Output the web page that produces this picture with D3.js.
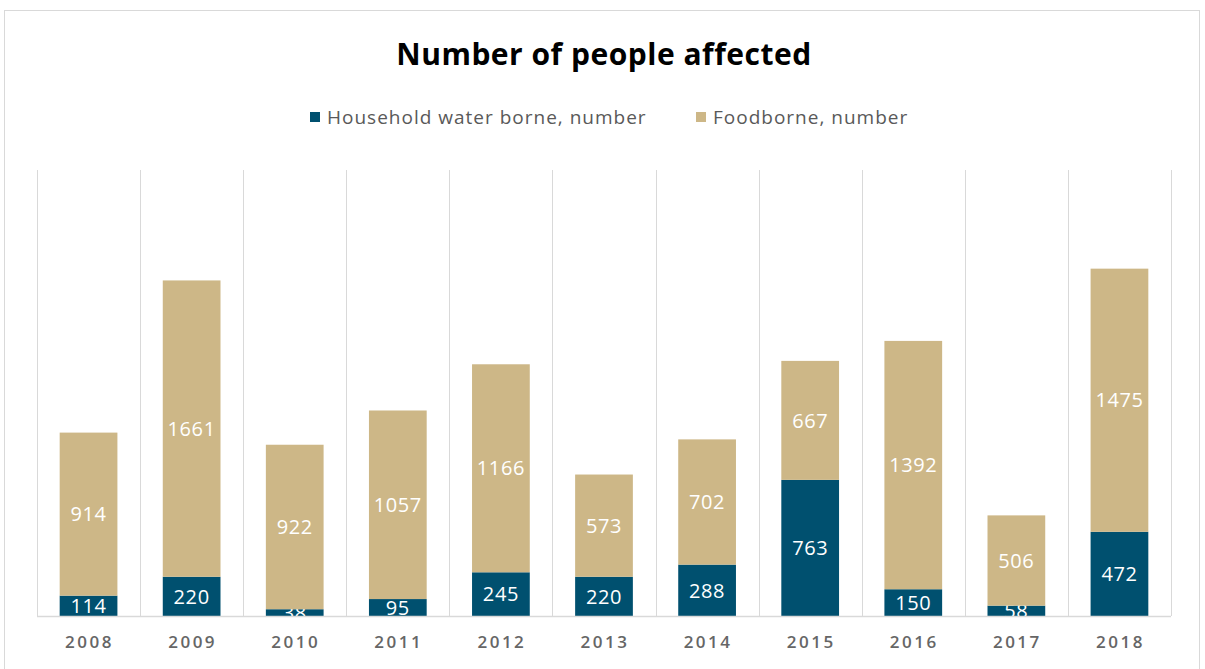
<!DOCTYPE html>
<html>
<head>
<meta charset="utf-8">
<script src="https://cdn.jsdelivr.net/npm/d3@7"></script>
<style>
body { margin: 0; background: #fff; }
text { font-family: "Open Sans", sans-serif; }
</style>
</head>
<body>
<script>
// chart values
var years = ["2008","2009","2010","2011","2012","2013","2014","2015","2016","2017","2018"];
var waterborne = [114, 220, 38, 95, 245, 220, 288, 763, 150, 58, 472];
var foodborne = [914, 1661, 922, 1057, 1166, 573, 702, 667, 1392, 506, 1475];
var seriesNames = ["Household water borne, number", "Foodborne, number"];
var colors = ["#00506f", "#cdb787"];

var W = 1205, H = 669;
var svg = d3.select("body").append("svg").attr("width", W).attr("height", H);

// outer border
svg.append("rect")
	.attr("x", 4.5).attr("y", 10.5).attr("width", 1195).attr("height", 700)
	.style("fill", "#fff").style("stroke", "#d9d9d9");

var plotLeft = 37, plotRight = 1171, plotTop = 170, plotBottom = 616;

var x = d3.scaleBand().domain(years).range([plotLeft, plotRight]).paddingInner(0).paddingOuter(0);
var y = d3.scaleLinear().domain([0, 2500]).range([plotBottom, plotTop]);
var barW = x.bandwidth() * 0.56;

// vertical gridlines at category boundaries
var bounds = years.map(function(d) { return x(d); }).concat([plotRight]);
svg.selectAll(".grid").data(bounds).enter().append("line")
	.attr("class", "grid")
	.attr("x1", function(d) { return Math.round(d) + 0.5; })
	.attr("x2", function(d) { return Math.round(d) + 0.5; })
	.attr("y1", plotTop).attr("y2", plotBottom)
	.style("stroke", "#d9d9d9").style("stroke-width", 1);

// stack the two series
var rows = years.map(function(d, i) { return {year: d, w: waterborne[i], f: foodborne[i]}; });
var stack = d3.stack().keys(["w", "f"])(rows);

var layer = svg.selectAll(".layer").data(stack).enter().append("g")
	.attr("class", "layer")
	.style("fill", function(d, i) { return colors[i]; });

layer.selectAll("rect").data(function(d) { return d; }).enter().append("rect")
	.attr("x", function(d) { return x(d.data.year) + (x.bandwidth() - barW) / 2; })
	.attr("width", barW)
	.attr("y", function(d) { return y(d[1]); })
	.attr("height", function(d) { return y(d[0]) - y(d[1]); });

// baseline
svg.append("line")
	.attr("x1", plotLeft).attr("x2", plotRight)
	.attr("y1", plotBottom + 0.5).attr("y2", plotBottom + 0.5)
	.style("stroke", "#d9d9d9").style("stroke-width", 1.5);

// data labels
layer.selectAll("text").data(function(d) { return d; }).enter().append("text")
	.attr("x", function(d) { return x(d.data.year) + x.bandwidth() / 2; })
	.attr("y", function(d) { return (y(d[0]) + y(d[1])) / 2; })
	.attr("dy", "0.36em")
	.attr("text-anchor", "middle")
	.style("fill", "#fff")
	.style("font-size", "20px")
	.style("letter-spacing", "0.6px")
	.text(function(d) { return d[1] - d[0]; });

// x axis labels
svg.selectAll(".year").data(years).enter().append("text")
	.attr("class", "year")
	.attr("x", function(d) { return x(d) + x.bandwidth() / 2 + 1; })
	.attr("y", 648)
	.attr("text-anchor", "middle")
	.style("fill", "#666")
	.style("font-size", "17px")
	.style("font-weight", "600")
	.style("letter-spacing", "2.5px")
	.text(function(d) { return d; });

// title
svg.append("text")
	.attr("x", 604).attr("y", 65)
	.attr("text-anchor", "middle")
	.style("font-size", "30px").style("font-weight", "bold")
	.style("letter-spacing", "0.5px")
	.style("fill", "#000")
	.text("Number of people affected");

// legend
var legendX = [310, 696];
var lg = svg.selectAll(".legend").data(seriesNames).enter().append("g")
	.attr("class", "legend")
	.attr("transform", function(d, i) { return "translate(" + legendX[i] + ",117)"; });
lg.append("rect")
	.attr("x", 0).attr("y", -5).attr("width", 10).attr("height", 10)
	.style("fill", function(d, i) { return colors[i]; });
lg.append("text")
	.attr("x", 17).attr("dy", "0.36em")
	.style("font-size", "19px")
	.style("letter-spacing", "1px")
	.style("fill", "#595959")
	.text(function(d) { return d; });
</script>
</body>
</html>
